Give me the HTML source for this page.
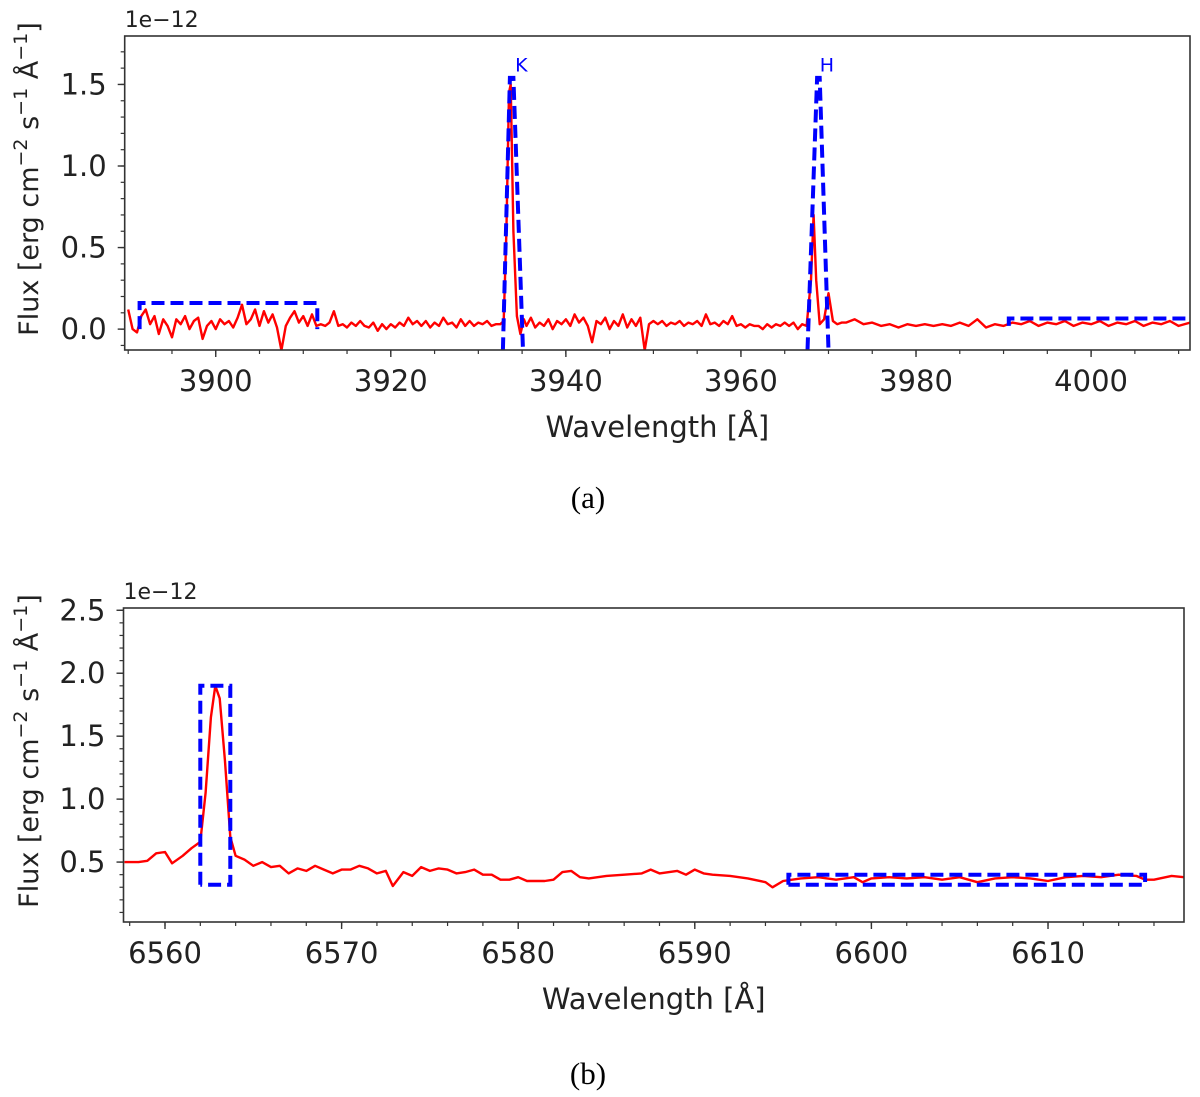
<!DOCTYPE html>
<html><head><meta charset="utf-8">
<style>
html,body{margin:0;padding:0;background:#fff;}
svg{display:block;font-family:"DejaVu Sans","Liberation Sans",sans-serif;}
.cap{font-family:"Liberation Serif",serif;font-size:31px;}
</style></head>
<body>
<svg id="fig" width="1200" height="1097" viewBox="0 0 1200 1097" xmlns="http://www.w3.org/2000/svg">
<text class="cap" x="588" y="508" text-anchor="middle">(a)</text>
<text class="cap" x="588" y="1084" text-anchor="middle">(b)</text>
</svg>
<script>
// Panel (a) data: Ca II K & H region
const wlA = [3890,3890.5,3891,3891.5,3892,3892.5,3893,3893.5,3894,3894.5,3895,3895.5,3896,3896.5,3897,3897.5,3898,3898.5,3899,3899.5,3900,3900.5,3901,3901.5,3902,3902.5,3903,3903.5,3904,3904.5,3905,3905.5,3906,3906.5,3907,3907.5,3908,3908.5,3909,3909.5,3910,3910.5,3911,3911.5,3912,3912.5,3913,3913.5,3914,3914.5,3915,3915.5,3916,3916.5,3917,3917.5,3918,3918.5,3919,3919.5,3920,3920.5,3921,3921.5,3922,3922.5,3923,3923.5,3924,3924.5,3925,3925.5,3926,3926.5,3927,3927.5,3928,3928.5,3929,3929.5,3930,3930.5,3931,3931.5,3932,3932.5,
3932.9,3933.2,3933.5,3933.7,3934.0,3934.4,3934.8,3935.2,
3935.5,3936,3936.5,3937,3937.5,3938,3938.5,3939,3939.5,3940,3940.5,3941,3941.5,3942,3942.5,3943,3943.5,3944,3944.5,3945,3945.5,3946,3946.5,3947,3947.5,3948,3948.5,3949,3949.5,3950,3950.5,3951,3951.5,3952,3952.5,3953,3953.5,3954,3954.5,3955,3955.5,3956,3956.5,3957,3957.5,3958,3958.5,3959,3959.5,3960,3960.5,3961,3961.5,3962,3962.5,3963,3963.5,3964,3964.5,3965,3965.5,3966,3966.5,3967,3967.5,
3968.0,3968.3,3968.6,3969.0,3969.5,3970.0,3970.5,3971,3971.5,
3972,3973,3974,3975,3976,3977,3978,3979,3980,3981,3982,3983,3984,3985,3986,3987,3988,3989,3990,3991,3992,3993,3994,3995,3996,3997,3998,3999,4000,4001,4002,4003,4004,4005,4006,4007,4008,4009,4010,4011.3];
const fluxA = [0.12,0.00,-0.02,0.08,0.12,0.03,0.08,-0.03,0.06,0.02,-0.05,0.06,0.03,0.08,0.00,0.05,0.07,-0.06,0.02,0.05,0.00,0.06,0.03,0.05,0.01,0.07,0.15,0.03,0.06,0.12,0.02,0.11,0.04,0.09,0.01,-0.13,0.02,0.07,0.11,0.04,0.08,0.02,0.09,0.02,0.03,0.02,0.04,0.11,0.02,0.03,0.01,0.04,0.02,0.05,0.02,0.01,0.04,-0.01,0.03,0.00,0.03,0.01,0.04,0.02,0.07,0.03,0.05,0.02,0.05,0.01,0.04,0.02,0.07,0.03,0.04,0.01,0.06,0.02,0.05,0.02,0.04,0.03,0.05,0.02,0.03,0.03,
0.05,0.60,1.45,1.50,0.60,0.08,-0.03,0.06,
0.02,0.07,0.01,0.04,0.02,0.06,0.00,0.05,0.03,0.06,0.02,0.09,0.04,0.07,0.02,-0.08,0.05,0.03,0.07,0.00,0.05,0.02,0.09,0.01,0.06,0.02,0.07,-0.13,0.03,0.05,0.03,0.05,0.02,0.04,0.03,0.05,0.02,0.04,0.03,0.05,0.02,0.09,0.03,0.04,0.02,0.05,0.03,0.08,0.02,0.03,0.01,0.03,0.02,0.02,0.00,0.03,0.01,0.03,0.02,0.04,0.02,0.04,0.00,0.03,0.02,
0.30,0.70,0.30,0.03,0.06,0.22,0.05,0.03,0.04,
0.04,0.06,0.03,0.04,0.02,0.03,0.01,0.03,0.02,0.03,0.02,0.03,0.02,0.04,0.02,0.06,0.01,0.03,0.02,0.04,0.03,0.05,0.02,0.04,0.03,0.05,0.02,0.04,0.03,0.05,0.02,0.04,0.03,0.05,0.02,0.04,0.03,0.05,0.02,0.04];
const boxA1x = [3891.3,3891.3,3911.6,3911.6];
const boxA1y = [0.0,0.16,0.16,0.0];
const boxKx = [3932.8,3933.6,3934.0,3935.1];
const boxKy = [-0.13,1.54,1.54,-0.13];
const boxHx = [3967.6,3968.7,3969.0,3970.0];
const boxHy = [-0.13,1.54,1.54,-0.13];
const boxA2x = [3990.6,3990.6,4012,4012];
const boxA2y = [0.02,0.065,0.065,0.02];
const xTicksA = [3900,3920,3940,3960,3980,4000];
const yTicksA = [0.0,0.5,1.0,1.5];

// Panel (b) data: H-alpha region
const wlB = [6557.7,6558.5,6559,6559.5,6560,6560.4,6561,6561.5,6562,6562.3,6562.6,6562.85,6563.1,6563.4,6563.7,6564,6564.5,6565,6565.5,6566,6566.5,6567,6567.5,6568,6568.5,6569,6569.5,6570,6570.5,6571,6571.5,6572,6572.5,6572.9,6573.5,6574,6574.5,6575,6575.5,6576,6576.5,6577,6577.5,6578,6578.5,6579,6579.5,6580,6580.5,6581,6581.5,6582,6582.5,6583,6583.5,6584,6585,6586,6587,6587.5,6588,6589,6589.5,6590,6590.5,6591,6592,6593,6594,6594.4,6595,6596,6597,6598,6599,6599.5,6600,6601,6602,6603,6604,6605,6606,6607,6608,6609,6610,6611,6612,6613,6614,6615,6615.5,6616,6617,6617.7];
const fluxB = [0.50,0.50,0.51,0.57,0.58,0.49,0.55,0.61,0.66,1.05,1.65,1.90,1.80,1.30,0.70,0.55,0.52,0.47,0.50,0.46,0.47,0.41,0.45,0.43,0.47,0.44,0.41,0.44,0.44,0.47,0.45,0.41,0.43,0.31,0.42,0.39,0.46,0.43,0.45,0.44,0.41,0.42,0.44,0.40,0.40,0.36,0.36,0.38,0.35,0.35,0.35,0.36,0.42,0.43,0.38,0.37,0.39,0.40,0.41,0.44,0.41,0.43,0.40,0.44,0.41,0.40,0.39,0.37,0.34,0.30,0.35,0.37,0.38,0.36,0.38,0.34,0.37,0.38,0.37,0.38,0.36,0.38,0.34,0.37,0.38,0.37,0.35,0.38,0.39,0.38,0.40,0.39,0.36,0.36,0.39,0.38];
const boxB1x = [6562.0,6562.0,6563.7,6563.7,6562.0];
const boxB1y = [0.32,1.90,1.90,0.32,0.32];
const boxB2x = [6595.3,6595.3,6615.5,6615.5,6595.3];
const boxB2y = [0.32,0.40,0.40,0.32,0.32];
const xTicksB = [6560,6570,6580,6590,6600,6610];
const yTicksB = [0.5,1.0,1.5,2.0,2.5];

const NS = "http://www.w3.org/2000/svg";
const svg = document.getElementById('fig');
function mk(tag, attrs, parent){
  const e = document.createElementNS(NS, tag);
  for (const k in attrs) e.setAttribute(k, attrs[k]);
  (parent||svg).appendChild(e);
  return e;
}

function panel(cfg){
  const g = mk('g', {});
  
  
  const X = v => cfg.L + (v - cfg.x0) / (cfg.x1 - cfg.x0) * (cfg.R - cfg.L);
  const Y = v => cfg.B - (v - cfg.y0) / (cfg.y1 - cfg.y0) * (cfg.B - cfg.T);
  const clipId = 'clip-' + cfg.name;
  const defs = mk('defs', {}, g);
  const cp = mk('clipPath', {id: clipId}, defs);
  mk('rect', {x: cfg.L, y: cfg.T, width: cfg.R - cfg.L, height: cfg.B - cfg.T}, cp);
  const plot = mk('g', {'clip-path': 'url(#' + clipId + ')'}, g);

  let d = '';
  cfg.wl.forEach((w, i) => { d += (i ? 'L' : 'M') + X(w).toFixed(1) + ',' + Y(cfg.flux[i]).toFixed(1); });
  const sp = mk('path', {d: d, fill: 'none', stroke: '#ff0000', 'stroke-width': 2.4, 'stroke-linejoin': 'round'}, plot);
  
  

  cfg.boxes.forEach(b => {
    let bd = '';
    b.x.forEach((w, i) => { bd += (i ? 'L' : 'M') + X(w).toFixed(1) + ',' + Y(b.y[i]).toFixed(1); });
    const bp = mk('path', {d: bd, fill: 'none', stroke: '#0000ff', 'stroke-width': 4, 'stroke-dasharray': '13,6'}, plot);
    
    
  });

  const fr = mk('rect', {x: cfg.L, y: cfg.T, width: cfg.R - cfg.L, height: cfg.B - cfg.T, fill: 'none', stroke: '#333', 'stroke-width': 1.6}, g);
  
  

  for (let v = cfg.xMinStart; v <= cfg.x1; v += cfg.xMinStep) {
    const x = X(v); if (x < cfg.L) continue;
    mk('line', {x1: x, x2: x, y1: cfg.B, y2: cfg.B + 4, stroke: '#333', 'stroke-width': 1.2}, g);
  }
  for (let v = cfg.yMinStart; v <= cfg.y1 + 1e-9; v += cfg.yMinStep) {
    const y = Y(v); if (y > cfg.B) continue;
    mk('line', {x1: cfg.L - 4, x2: cfg.L, y1: y, y2: y, stroke: '#333', 'stroke-width': 1.2}, g);
  }
  cfg.xTicks.forEach(v => {
    const x = X(v);
    mk('line', {x1: x, x2: x, y1: cfg.B, y2: cfg.B + 7, stroke: '#333', 'stroke-width': 1.4}, g);
    const t = mk('text', {x: x, y: cfg.B + 41, 'text-anchor': 'middle', 'font-size': 29, fill: '#222'}, g);
    t.textContent = String(v);
    
    
  });
  cfg.yTicks.forEach(v => {
    const y = Y(v);
    mk('line', {x1: cfg.L - 7, x2: cfg.L, y1: y, y2: y, stroke: '#333', 'stroke-width': 1.4}, g);
    const t = mk('text', {x: cfg.L - 18, y: y + 10, 'text-anchor': 'end', 'font-size': 29, fill: '#222'}, g);
    t.textContent = v.toFixed(1);
    
    
  });
  const off = mk('text', {x: cfg.L, y: cfg.T - 9, 'font-size': 22, fill: '#222'}, g);
  off.textContent = '1e\u221212';
  
  
  const xl = mk('text', {x: (cfg.L + cfg.R) / 2, y: cfg.B + 87, 'text-anchor': 'middle', 'font-size': 29, fill: '#222'}, g);
  xl.textContent = 'Wavelength [\u00c5]';
  
  
  const cy = (cfg.T + cfg.B) / 2 - 14;
  const yl = mk('text', {x: 0, y: 0, 'text-anchor': 'middle', 'font-size': 27, fill: '#222', transform: 'translate(38,' + cy + ') rotate(-90)'}, g);
  
  
  yl.innerHTML = 'Flux [erg cm<tspan dy="-11" font-size="19">\u22122</tspan><tspan dy="11"> s</tspan><tspan dy="-11" font-size="19">\u22121</tspan><tspan dy="11"> \u00c5</tspan><tspan dy="-11" font-size="19">\u22121</tspan><tspan dy="11">]</tspan>';
  return {X, Y, g};
}

const pa = panel({name: 'panel-a', L: 124.7, R: 1190, T: 36, B: 350, x0: 3889.6, x1: 4011.3, y0: -0.128, y1: 1.797,
  wl: wlA, flux: fluxA, xTicks: xTicksA, yTicks: yTicksA, xMinStart: 3890, xMinStep: 5, yMinStart: -0.1, yMinStep: 0.1,
  boxes: [{name: 'continuum-box-left', x: boxA1x, y: boxA1y}, {name: 'ca-k-box', x: boxKx, y: boxKy},
          {name: 'ca-h-box', x: boxHx, y: boxHy}, {name: 'continuum-box-right', x: boxA2x, y: boxA2y}]});
const kl = mk('text', {x: pa.X(3934.2), y: pa.Y(1.58), 'font-size': 19, fill: '#0000ff'}, pa.g);
kl.textContent = 'K';


const hl = mk('text', {x: pa.X(3969.0), y: pa.Y(1.58), 'font-size': 19, fill: '#0000ff'}, pa.g);
hl.textContent = 'H';



panel({name: 'panel-b', L: 123.5, R: 1184, T: 608, B: 922, x0: 6557.65, x1: 6617.7, y0: 0.024, y1: 2.518,
  wl: wlB, flux: fluxB, xTicks: xTicksB, yTicks: yTicksB, xMinStart: 6558, xMinStep: 2, yMinStart: 0.1, yMinStep: 0.1,
  boxes: [{name: 'halpha-box', x: boxB1x, y: boxB1y}, {name: 'continuum-box', x: boxB2x, y: boxB2y}]});
</script>
</body></html>
